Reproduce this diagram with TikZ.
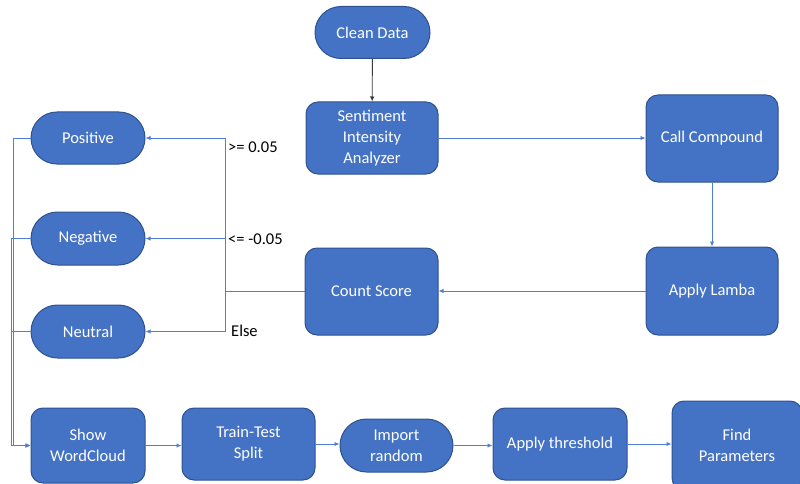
\documentclass[tikz,border=0pt]{standalone}
\usepackage{fontspec}
\setmainfont{Carlito}
\usetikzlibrary{shapes.misc,arrows.meta}
\definecolor{boxfill}{HTML}{4472C4}
\definecolor{boxedge}{HTML}{2F528F}
\definecolor{linkblue}{HTML}{4F7FD2}
\definecolor{darkline}{HTML}{3A3A3A}
\tikzset{
  base/.style={draw=boxedge, fill=boxfill, line width=1pt, text=white,
    font=\fontsize{16.5}{21}\selectfont, align=center, inner sep=0pt},
  rbox/.style={base, rectangle, rounded corners=12pt},
  pill/.style={base, rounded rectangle},
  link/.style={draw=linkblue, line width=0.9pt, -{Latex[length=5pt,width=4.5pt]}},
  plain/.style={draw=linkblue, line width=0.9pt},
  cond/.style={font=\fontsize{16.5}{21}\selectfont, text=black, anchor=west, inner sep=0pt}
}
\begin{document}
\begin{tikzpicture}[x=1pt,y=-1pt]
  \useasboundingbox (0,0) rectangle (800,484);
  \clip (0,0) rectangle (800,484);

  % top row and right column
  \node[pill, minimum width=115pt, minimum height=52pt] (clean) at (372.5,32.5) {Clean Data};
  \node[rbox, minimum width=132pt, minimum height=72pt] (sia) at (372,138) {Sentiment\\Intensity\\Analyzer};
  \node[rbox, minimum width=132pt, minimum height=87pt] (call) at (712,138.5) {Call Compound};
  \node[rbox, minimum width=132pt, minimum height=88pt] (lamba) at (712,291) {Apply Lamba};
  \node[rbox, minimum width=133pt, minimum height=87pt] (count) at (371.5,291.5) {Count Score};

  % sentiment classes
  \node[pill, minimum width=114pt, minimum height=52pt] (pos) at (88,138) {Positive};
  \node[pill, minimum width=114pt, minimum height=53pt] (neg) at (88,238.5) {Negative};
  \node[pill, minimum width=114pt, minimum height=53pt] (neu) at (88,331.5) {Neutral};

  % bottom row
  \node[rbox, minimum width=114pt, minimum height=75pt] (show) at (88,445.5) {Show\\WordCloud};
  \node[rbox, minimum width=133pt, minimum height=72pt] (tts) at (248.5,444) {Train-Test\\Split};
  \node[pill, minimum width=113pt, minimum height=53pt] (imp) at (396.5,445.5) {Import\\random};
  \node[rbox, minimum width=134pt, minimum height=72pt] (thr) at (560,444) {Apply threshold};
  \node[rbox, minimum width=130pt, minimum height=89pt] (find) at (737,445.5) {Find\\Parameters};

  % main flow
  \draw[draw=darkline, line width=0.9pt, -{Latex[length=5pt,width=4.5pt]}] (clean) -- (sia);
  \draw[link] (sia.east) -- (call.west |- sia.east);
  \draw[link] (call) -- (lamba);
  \draw[link] (lamba.west) -- (count.east |- lamba.west);

  % score branching
  \coordinate (br) at (225,291.5);
  \draw[plain] (count.west) -- (br);
  \draw[link] (br) |- (pos.east);
  \draw[link] (br) |- (neg.east);
  \draw[link] (br) |- (neu.east);
  \node[cond] (lpos) at (228,147) {>= 0.05};
  \node[cond] (lneg) at (228,239) {<= -0.05};
  \node[cond] (lneu) at (231,331) {Else};

  % classes feed the word cloud
  \draw[link] (pos.west) -- ++(-17,0) |- (show.west);
  \draw[link] (neg.west) -- ++(-19,0) |- (show.west);
  \draw[link] (neu.west) -- ++(-19,0) |- (show.west);

  % bottom flow
  \draw[link] (show.east) -- (tts.west |- show.east);
  \draw[link] (tts.east) -- (imp.west |- tts.east);
  \draw[link] (imp.east) -- (thr.west |- imp.east);
  \draw[link] (thr.east) -- (find.west |- thr.east);
\end{tikzpicture}
\end{document}
